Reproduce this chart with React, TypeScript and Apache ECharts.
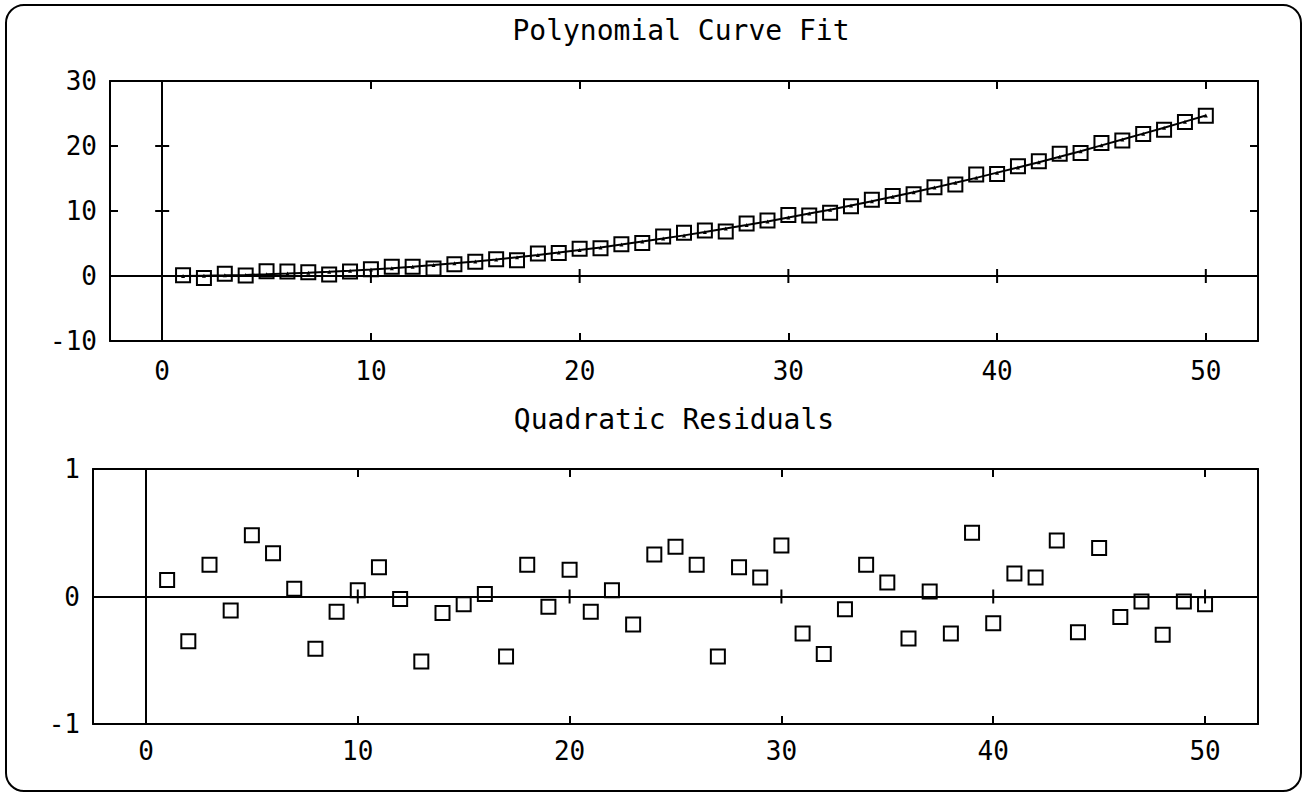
import React, { useEffect, useRef } from "react";
import * as echarts from "echarts";

const xValues = [
  1, 2, 3, 4, 5, 6, 7, 8, 9, 10, 11, 12, 13, 14, 15, 16, 17, 18, 19, 20, 21, 22, 23, 24, 25,
  26, 27, 28, 29, 30, 31, 32, 33, 34, 35, 36, 37, 38, 39, 40, 41, 42, 43, 44, 45, 46, 47, 48, 49, 50,
];

const fitCurve = [
  0.0, 0.05, 0.1, 0.17, 0.26, 0.37, 0.5, 0.65, 0.82, 1.0, 1.2, 1.43, 1.68, 1.95, 2.24, 2.55, 2.88,
  3.23, 3.6, 4.0, 4.4, 4.84, 5.3, 5.76, 6.25, 6.76, 7.3, 7.84, 8.4, 9.0, 9.6, 10.2, 10.85, 11.5,
  12.2, 12.9, 13.6, 14.35, 15.1, 15.9, 16.7, 17.5, 18.35, 19.2, 20.1, 21.0, 21.9, 22.8, 23.75, 24.7,
];

const polyData = [
  0.13, -0.3, 0.35, 0.06, 0.74, 0.71, 0.56, 0.24, 0.7, 1.05, 1.43, 1.41, 1.17, 1.82, 2.18, 2.57,
  2.41, 3.48, 3.52, 4.21, 4.28, 4.89, 5.08, 6.09, 6.64, 7.01, 6.83, 8.07, 8.55, 9.4, 9.31, 9.75,
  10.75, 11.75, 12.31, 12.57, 13.64, 14.06, 15.6, 15.69, 16.88, 17.65, 18.79, 18.92, 20.48, 20.84,
  21.86, 22.5, 23.71, 24.64,
];

const residuals = [
  0.13, -0.35, 0.25, -0.11, 0.48, 0.34, 0.06, -0.41, -0.12, 0.05, 0.23, -0.02, -0.51, -0.13, -0.06,
  0.02, -0.47, 0.25, -0.08, 0.21, -0.12, 0.05, -0.22, 0.33, 0.39, 0.25, -0.47, 0.23, 0.15, 0.4,
  -0.29, -0.45, -0.1, 0.25, 0.11, -0.33, 0.04, -0.29, 0.5, -0.21, 0.18, 0.15, 0.44, -0.28, 0.38,
  -0.16, -0.04, -0.3, -0.04, -0.06,
];

const xTickValues = [10, 20, 30, 40, 50];
const xLabelValues = [0, 10, 20, 30, 40, 50];
const topYLabelValues = [-10, 0, 10, 20, 30];
const topYTickValues = [10, 20];
const bottomYLabelValues = [-1, 0, 1];

const topTitle = "Polynomial Curve Fit";
const bottomTitle = "Quadratic Residuals";

const FONT = "DejaVu Sans Mono";
const BLACK = "#000";

function App() {
  const ref = useRef<HTMLDivElement>(null);

  useEffect(() => {
    if (!ref.current) return;
    const chart = echarts.init(ref.current, null, { renderer: "svg" });

    const axisLine = { show: true, onZero: false, lineStyle: { color: BLACK, width: 2 } };
    const labelStyle = { color: BLACK, fontFamily: FONT, fontSize: 26 };

    const makeX = (grid: number, pos: "top" | "bottom", labels: boolean, margin: number) => ({
      type: "value",
      gridIndex: grid,
      position: pos,
      min: -2.5,
      max: 52.5,
      axisLine,
      splitLine: { show: false },
      axisTick: {
        show: true,
        inside: true,
        length: 8,
        customValues: xTickValues,
        lineStyle: { color: BLACK, width: 2 },
      },
      axisLabel: labels
        ? { show: true, margin, customValues: xLabelValues, ...labelStyle }
        : { show: false },
    });

    const makeY = (
      grid: number,
      pos: "left" | "right",
      min: number,
      max: number,
      labelVals: number[] | null,
      tickVals: number[]
    ) => ({
      type: "value",
      gridIndex: grid,
      position: pos,
      min,
      max,
      axisLine,
      splitLine: { show: false },
      axisTick: {
        show: tickVals.length > 0,
        inside: true,
        length: 8,
        customValues: tickVals.length > 0 ? tickVals : undefined,
        lineStyle: { color: BLACK, width: 2 },
      },
      axisLabel: labelVals
        ? { show: true, margin: 13, customValues: labelVals, ...labelStyle }
        : { show: false },
    });

    const crossTicks = (params: any, api: any) => {
      const p = api.coord([api.value(0), api.value(1)]);
      const horiz = api.value(2) === 1;
      return {
        type: "line",
        shape: horiz
          ? { x1: p[0] - 7, y1: p[1], x2: p[0] + 7, y2: p[1] }
          : { x1: p[0], y1: p[1] - 7, x2: p[0], y2: p[1] + 7 },
        style: { stroke: BLACK, lineWidth: 2 },
      };
    };

    const zeroLines = {
      silent: true,
      symbol: "none",
      label: { show: false },
      lineStyle: { color: BLACK, width: 2, type: "solid" },
      emphasis: { disabled: true },
      data: [{ xAxis: 0 }, { yAxis: 0 }],
    };

    const squareStyle = {
      color: "rgba(0,0,0,0)",
      borderColor: BLACK,
      borderWidth: 2,
      opacity: 1,
    };

    const option = {
      animation: false,
      backgroundColor: "#fff",
      graphic: [
        {
          type: "rect",
          shape: { x: 6, y: 5, width: 1295, height: 786, r: 18 },
          style: { fill: "none", stroke: BLACK, lineWidth: 2 },
          silent: true,
        },
        {
          type: "text",
          x: 681,
          y: 16,
          style: {
            text: topTitle,
            fill: BLACK,
            fontFamily: FONT,
            fontSize: 28,
            align: "center",
            verticalAlign: "top",
          },
        },
        {
          type: "text",
          x: 674,
          y: 405,
          style: {
            text: bottomTitle,
            fill: BLACK,
            fontFamily: FONT,
            fontSize: 28,
            align: "center",
            verticalAlign: "top",
          },
        },
      ],
      grid: [
        { left: 110, top: 81, right: 47, height: 260 },
        { left: 93, top: 469, right: 47, height: 255 },
      ],
      xAxis: [
        makeX(0, "bottom", true, 17),
        makeX(0, "top", false, 0),
        makeX(1, "bottom", true, 14),
        makeX(1, "top", false, 0),
      ],
      yAxis: [
        makeY(0, "left", -10, 30, topYLabelValues, topYTickValues),
        makeY(0, "right", -10, 30, null, topYTickValues),
        makeY(1, "left", -1, 1, bottomYLabelValues, []),
        makeY(1, "right", -1, 1, null, []),
      ],
      series: [
        {
          type: "line",
          xAxisIndex: 0,
          yAxisIndex: 0,
          data: xValues.map((x, i) => [x, fitCurve[i]]),
          lineStyle: { color: BLACK, width: 2 },
          symbol: "triangle",
          symbolSize: 4,
          itemStyle: { color: BLACK, opacity: 1 },
          markLine: zeroLines,
          z: 2,
        },
        {
          type: "scatter",
          xAxisIndex: 0,
          yAxisIndex: 0,
          data: xValues.map((x, i) => [x, polyData[i]]),
          symbol: "rect",
          symbolSize: 14,
          itemStyle: squareStyle,
          z: 3,
        },
        {
          type: "custom",
          xAxisIndex: 0,
          yAxisIndex: 0,
          renderItem: crossTicks,
          encode: { x: 0, y: 1 },
          data: [
            ...xTickValues.map((v) => [v, 0, 0]),
            ...topYTickValues.map((v) => [0, v, 1]),
          ],
          silent: true,
          z: 2,
        },
        {
          type: "scatter",
          xAxisIndex: 2,
          yAxisIndex: 2,
          data: xValues.map((x, i) => [x, residuals[i]]),
          symbol: "rect",
          symbolSize: 14,
          itemStyle: squareStyle,
          markLine: zeroLines,
          z: 3,
        },
        {
          type: "custom",
          xAxisIndex: 2,
          yAxisIndex: 2,
          renderItem: crossTicks,
          encode: { x: 0, y: 1 },
          data: xTickValues.map((v) => [v, 0, 0]),
          silent: true,
          z: 2,
        },
      ],
    };

    chart.setOption(option as any);
    return () => chart.dispose();
  }, []);

  return (
    <div
      ref={ref}
      style={{ position: "fixed", left: 0, top: 0, width: 1305, height: 795, background: "#fff" }}
    />
  );
}

export default App;
